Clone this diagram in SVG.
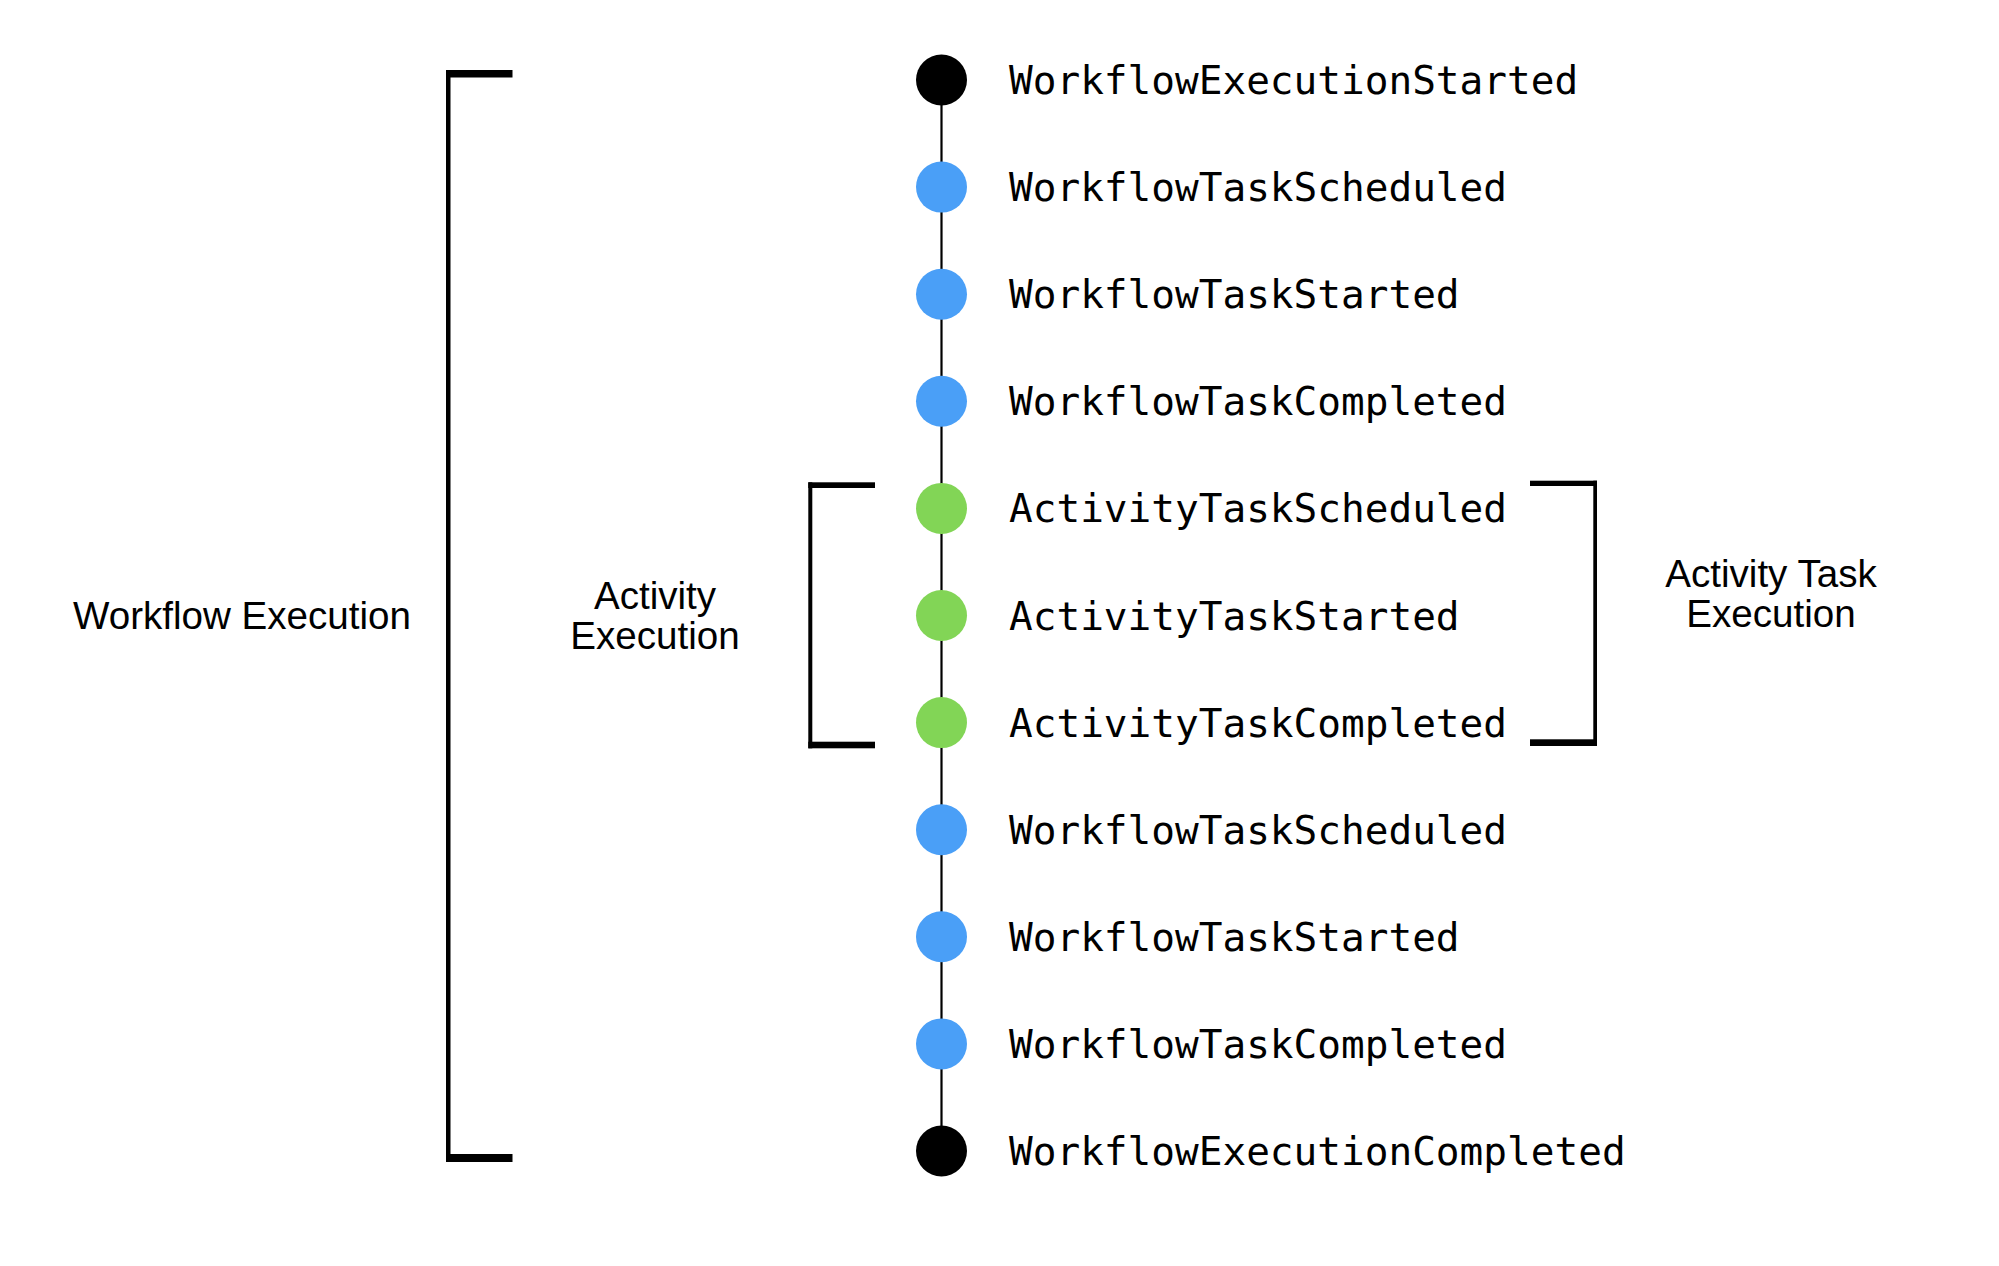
<svg xmlns="http://www.w3.org/2000/svg" width="1999" height="1266" viewBox="0 0 1999 1266">
<style>
.bg{fill:#ffffff}
.br{fill:#000000}
.edge{stroke:#000000;stroke-width:2.2;fill:none}
.start{fill:#000000}
.wf{fill:#4A9FF7}
.act{fill:#82D556}
.mono{font-family:"DejaVu Sans Mono","Liberation Mono",monospace;font-size:39.4px;fill:#000000}
.lbl{font-family:"Liberation Sans",Arial,Helvetica,sans-serif;font-size:38.6px;fill:#000000;text-anchor:middle}
</style>
<rect class="bg" x="0" y="0" width="1999" height="1266"/>

<g id="connectors">
  <line class="edge" x1="941.5" y1="80" x2="941.5" y2="1151"/>
</g>

<g id="bracket-workflow">
  <rect class="br" x="446" y="70" width="4.5" height="1092"/>
  <rect class="br" x="446" y="70" width="66.5" height="7.5"/>
  <rect class="br" x="446" y="1154" width="66.5" height="8"/>
  <text class="lbl" x="242" y="629">Workflow Execution</text>
</g>

<g id="bracket-activity">
  <rect class="br" x="808.3" y="482.3" width="4" height="266"/>
  <rect class="br" x="808.3" y="482.3" width="66.7" height="5.7"/>
  <rect class="br" x="808.3" y="741.7" width="66.7" height="6.6"/>
  <text class="lbl" x="655" y="609">Activity</text>
  <text class="lbl" x="655" y="649">Execution</text>
</g>

<g id="bracket-activity-task">
  <rect class="br" x="1593.3" y="480.7" width="3.7" height="265.3"/>
  <rect class="br" x="1530" y="480.7" width="67" height="5.3"/>
  <rect class="br" x="1530" y="739.3" width="67" height="6.7"/>
  <text class="lbl" x="1771" y="587">Activity Task</text>
  <text class="lbl" x="1771" y="627">Execution</text>
</g>

<g id="n1"><circle class="start" cx="941.5" cy="80" r="25.5"/><text class="mono" x="1009" y="94">WorkflowExecutionStarted</text></g>
<g id="n2"><circle class="wf" cx="941.5" cy="187.1" r="25.5"/><text class="mono" x="1009" y="201.1">WorkflowTaskScheduled</text></g>
<g id="n3"><circle class="wf" cx="941.5" cy="294.2" r="25.5"/><text class="mono" x="1009" y="308.2">WorkflowTaskStarted</text></g>
<g id="n4"><circle class="wf" cx="941.5" cy="401.3" r="25.5"/><text class="mono" x="1009" y="415.3">WorkflowTaskCompleted</text></g>
<g id="n5"><circle class="act" cx="941.5" cy="508.4" r="25.5"/><text class="mono" x="1009" y="522.4">ActivityTaskScheduled</text></g>
<g id="n6"><circle class="act" cx="941.5" cy="615.5" r="25.5"/><text class="mono" x="1009" y="629.5">ActivityTaskStarted</text></g>
<g id="n7"><circle class="act" cx="941.5" cy="722.6" r="25.5"/><text class="mono" x="1009" y="736.6">ActivityTaskCompleted</text></g>
<g id="n8"><circle class="wf" cx="941.5" cy="829.7" r="25.5"/><text class="mono" x="1009" y="843.7">WorkflowTaskScheduled</text></g>
<g id="n9"><circle class="wf" cx="941.5" cy="936.8" r="25.5"/><text class="mono" x="1009" y="950.8">WorkflowTaskStarted</text></g>
<g id="n10"><circle class="wf" cx="941.5" cy="1043.9" r="25.5"/><text class="mono" x="1009" y="1057.9">WorkflowTaskCompleted</text></g>
<g id="n11"><circle class="start" cx="941.5" cy="1151" r="25.5"/><text class="mono" x="1009" y="1165">WorkflowExecutionCompleted</text></g>
</svg>
